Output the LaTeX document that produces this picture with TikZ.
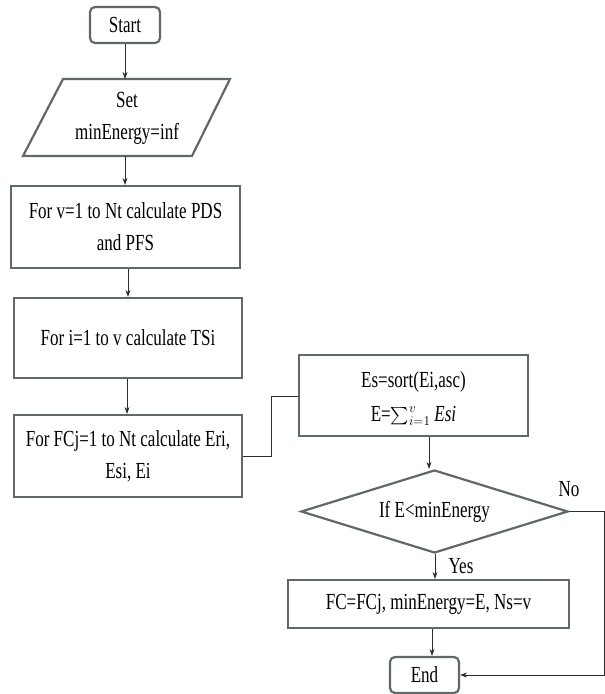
\RequirePackage{fix-cm}
\documentclass[tikz,border=0pt]{standalone}
\usepackage{exscale}
\usepackage{fontspec}
\setmainfont{Liberation Serif}[FakeStretch=0.74]
\usetikzlibrary{arrows.meta,shapes.geometric}
\definecolor{boxline}{RGB}{95,106,100}
\definecolor{conn}{RGB}{45,45,45}
\tikzset{
  txt/.style={font=\fontsize{23}{32}\selectfont, align=center, inner sep=0pt},
  procbox/.style={txt, draw=boxline, line width=2.2pt, fill=white},
  termbox/.style={procbox, rounded corners=5pt},
  decbox/.style={txt, diamond, draw=boxline, line width=2.2pt, shape aspect=3.2},
  flow/.style={draw=conn, line width=0.9pt, -{Stealth[length=7pt,width=5pt]}},
  joinline/.style={draw=conn, line width=0.9pt}
}
\begin{document}
\begin{tikzpicture}[x=1pt,y=-1pt]
\useasboundingbox (0,0) rectangle (605,694);
% terminals and boxes
\node[termbox, minimum width=70pt, minimum height=36pt] (start) at (125,25) {Start};
\draw[draw=boxline, line width=2.2pt, line join=miter] (63,79) -- (230,79) -- (192,156) -- (23,156) -- cycle;
\node[txt] (set) at (127,118) {Set\\minEnergy=inf};
\coordinate (settop) at (125,79);
\coordinate (setbot) at (125,156);
\node[procbox, minimum width=229pt, minimum height=82pt] (box1) at (125.5,227) {For v=1 to Nt calculate PDS\\and PFS};
\node[procbox, minimum width=228pt, minimum height=80pt] (box2) at (128,338) {For i=1 to v calculate TSi};
\node[procbox, minimum width=228pt, minimum height=82pt] (box3) at (128,456) {For FCj=1 to Nt calculate Eri,\\Esi, Ei};
\node[procbox, minimum width=229pt, minimum height=81pt] (box4) at (413.5,395.5) {};
\node[txt, anchor=base] (sortline) at (413.5,387) {Es=sort(Ei,asc)};
\node[txt, anchor=base] (sumline) at (413.5,421) {E={\fontsize{19}{22}\selectfont$\sum_{i=1}^{v}$}\,\textit{Esi}};
\node[decbox, minimum width=267pt, minimum height=83pt] (dec) at (434.5,511.5) {If E<minEnergy};
\node[procbox, minimum width=281pt, minimum height=48pt] (box5) at (428.5,604) {FC=FCj, minEnergy=E, Ns=v};
\node[termbox, minimum width=69pt, minimum height=36pt] (end) at (424.5,675) {End};
% labels
\node[txt] (nolab) at (569,489) {No};
\node[txt] (yeslab) at (461,566) {Yes};
% connectors
\draw[flow] (start.south) -- (settop);
\draw[flow] (setbot) -- (setbot |- box1.north);
\draw[flow] ([xshift=2.5pt]box1.south) -- ([xshift=2.5pt]box1.south |- box2.north);
\draw[flow] ([xshift=-1pt]box2.south) -- ([xshift=-1pt]box2.south |- box3.north);
\coordinate (jn) at (271,396);
\draw[joinline] (box3.east) -| (jn) -- (box4.west |- jn);
\coordinate (b4x) at (429,0);
\draw[flow] (b4x |- box4.south) -- (b4x |- dec.north);
\coordinate (dx) at (435,0);
\draw[flow] (dx |- dec.south) -- (dx |- box5.north);
\coordinate (ex) at (432,0);
\draw[flow] (ex |- box5.south) -- (ex |- end.north);
\coordinate (nocorner) at (604,511.5);
\draw[flow] (dec.east) -- (nocorner) |- (end.east);
\end{tikzpicture}
\end{document}
